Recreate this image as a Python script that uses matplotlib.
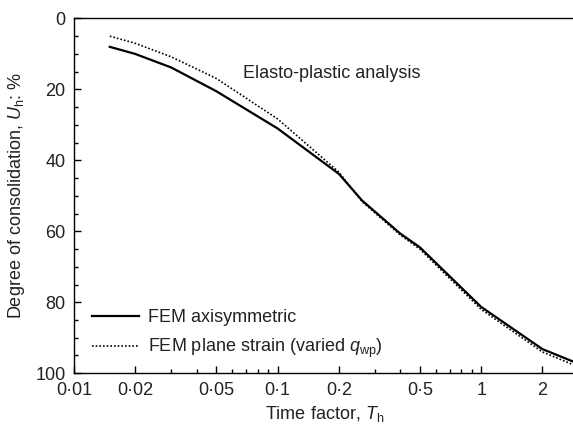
import matplotlib
matplotlib.use("Agg")
import matplotlib.pyplot as plt
from matplotlib.ticker import FixedLocator, FixedFormatter, NullFormatter

plt.rcParams['font.family'] = ['Liberation Sans', 'DejaVu Sans']
plt.rcParams['mathtext.fontset'] = 'custom'
plt.rcParams['mathtext.rm'] = 'Liberation Sans'
plt.rcParams['mathtext.it'] = 'Liberation Sans:italic'
plt.rcParams['text.color'] = '#222222'
plt.rcParams['xtick.labelcolor'] = '#222222'
plt.rcParams['ytick.labelcolor'] = '#222222'
plt.rcParams['axes.labelcolor'] = '#222222'

# time factor Th
t_axi = [0.015, 0.02, 0.03, 0.05, 0.1, 0.2, 0.26, 0.4, 0.5, 1.0, 2.0, 3.0]
u_axi = [8.0, 10.0, 13.8, 20.5, 31.0, 43.8, 51.3, 60.6, 64.5, 81.3, 93.2, 97.3]

t_ps = [0.015, 0.02, 0.03, 0.05, 0.1, 0.2, 0.26, 0.4, 0.5, 1.0, 2.0, 3.0]
u_ps = [5.0, 7.0, 10.8, 16.9, 28.3, 43.3, 51.6, 61.0, 65.0, 82.0, 94.0, 98.2]

xticks = [0.01, 0.02, 0.05, 0.1, 0.2, 0.5, 1, 2]
xlabels = ['0·01', '0·02', '0·05', '0·1', '0·2', '0·5', '1', '2']
xminor = [0.03, 0.04, 0.06, 0.07, 0.08, 0.09, 0.3, 0.4, 0.6, 0.7, 0.8, 0.9]

fig = plt.figure(figsize=(5.73, 4.29), dpi=100)
ax = fig.add_axes([0.129, 0.130, 0.875, 0.827])

ax.plot(t_axi, u_axi, color='black', lw=1.6, label='FEM axisymmetric')
ax.plot(t_ps, u_ps, color='black', lw=1.2, ls=(0, (1, 1.2)),
        label='FEM plane strain (varied $q_\\mathrm{wp}$)')

ax.set_xscale('log')
ax.set_xlim(0.01, 2.9)
ax.set_ylim(100, 0)

ax.xaxis.set_major_locator(FixedLocator(xticks))
ax.xaxis.set_major_formatter(FixedFormatter(xlabels))
ax.xaxis.set_minor_locator(FixedLocator(xminor))
ax.xaxis.set_minor_formatter(NullFormatter())
ax.set_yticks(range(0, 101, 20))
ax.set_yticks(range(0, 101, 5), minor=True)

ax.tick_params(which='both', direction='in', labelsize=13, width=1, top=False, right=False)
ax.tick_params(which='major', length=5, pad=6)
ax.tick_params(which='minor', length=3)
for s in ['left', 'bottom', 'top']:
    ax.spines[s].set_linewidth(1.0)
ax.spines['right'].set_visible(False)

ax.set_xlabel('Time factor, $T_\\mathrm{h}$', fontsize=13, labelpad=4)
ax.set_ylabel('Degree of consolidation, $U_\\mathrm{h}$: %', fontsize=13, labelpad=6)

ax.text(0.0675, 15.4, 'Elasto-plastic analysis', fontsize=13, va='center', ha='left')

ax.legend(loc='lower left', bbox_to_anchor=(0.01, 0.0), frameon=False, fontsize=13,
          handlelength=2.6, handletextpad=0.5, labelspacing=0.62, borderaxespad=0.32)

fig.savefig('out.png', dpi=100)
